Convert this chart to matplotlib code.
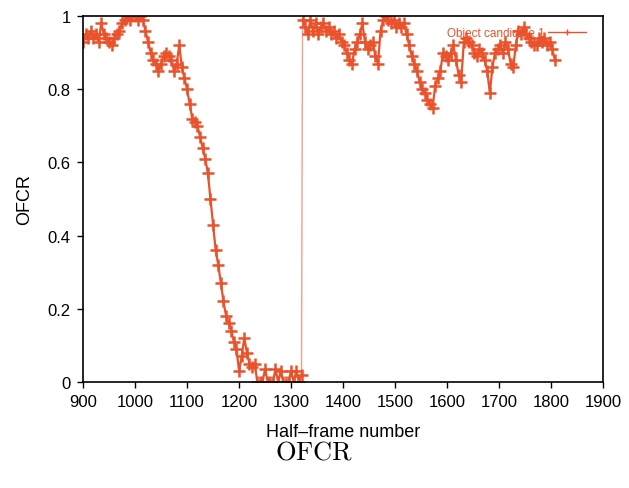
import matplotlib
matplotlib.use('Agg')
import matplotlib.pyplot as plt
import numpy as np

plt.rcParams['font.family'] = ['Liberation Sans', 'DejaVu Sans']
plt.rcParams['mathtext.fontset'] = 'cm'

# frames before the jump (step 5) and after it
frames_a = list(range(900, 1321, 5))
ofcr_a = [0.93, 0.95, 0.94, 0.96, 0.94, 0.95, 0.93, 0.98, 0.95, 0.94,
          0.93, 0.92, 0.94, 0.95, 0.96, 0.98, 0.99, 1.00, 0.99, 1.00,
          1.00, 0.99, 1.00, 0.99, 0.96, 0.93, 0.90, 0.88, 0.87, 0.85,
          0.87, 0.89, 0.90, 0.89, 0.88, 0.85, 0.87, 0.92, 0.86, 0.83,
          0.80, 0.76, 0.72, 0.71, 0.70, 0.67, 0.64, 0.61, 0.57, 0.50,
          0.43, 0.36, 0.32, 0.27, 0.22, 0.18, 0.16, 0.14, 0.11, 0.09,
          0.03, 0.07, 0.12, 0.08, 0.05, 0.04, 0.05, 0.00, 0.00, 0.00,
          0.035, 0.00, 0.00, 0.00, 0.035, 0.00, 0.03, 0.00, 0.00, 0.00,
          0.03, 0.00, 0.03, 0.00, 0.02]

frames_b = list(range(1322, 1808, 5))
ofcr_b = [0.99, 0.97, 0.95, 0.99, 0.96, 0.98, 0.95, 0.97, 0.98, 0.96,
          0.97, 0.95, 0.96, 0.94, 0.95, 0.93, 0.92, 0.90, 0.88, 0.87,
          0.91, 0.93, 0.95, 0.98, 0.93, 0.91, 0.92, 0.93, 0.89, 0.87,
          0.96, 0.99, 1.00, 0.99, 0.98, 0.99, 0.97, 0.98, 0.97, 0.98,
          0.95, 0.92, 0.89, 0.87, 0.85, 0.82, 0.80, 0.79, 0.77, 0.76,
          0.75, 0.81, 0.83, 0.85, 0.90, 0.89, 0.88, 0.90, 0.92, 0.88,
          0.84, 0.82, 0.93, 0.94, 0.93, 0.92, 0.90, 0.89, 0.91, 0.90,
          0.88, 0.85, 0.79, 0.86, 0.90, 0.91, 0.92, 0.90, 0.93, 0.91,
          0.87, 0.86, 0.92, 0.96, 0.95, 0.97, 0.95, 0.94, 0.93, 0.92,
          0.92, 0.94, 0.93, 0.94, 0.92, 0.93, 0.91, 0.88]

xticks = list(range(900, 2000, 100))
yticks = [0, 0.2, 0.4, 0.6, 0.8, 1]
ytick_labels = ['0', '0.2', '0.4', '0.6', '0.8', '1']

red = '#e9522a'

fig = plt.figure(figsize=(6.29, 4.89), dpi=100)
ax = fig.add_axes([0.132, 0.217, 0.827, 0.748])

# thin connector across the jump (drawn lighter, like the original)
ax.plot([frames_a[-1], frames_b[0]], [ofcr_a[-1], ofcr_b[0]], color=red,
        lw=1.0, alpha=0.55)
ax.plot(frames_a, ofcr_a, color=red, lw=1.6, marker='+', ms=8, mew=1.8,
        label='Object candidate 1')
ax.plot(frames_b, ofcr_b, color=red, lw=1.6, marker='+', ms=8, mew=1.8)

ax.set_xlim(900, 1900)
ax.set_ylim(0, 1)
ax.set_xticks(xticks)
ax.set_yticks(yticks)
ax.set_yticklabels(ytick_labels)
ax.tick_params(direction='out', length=4, width=1, labelsize=12, pad=5,
               top=False, right=False)
for s in ax.spines.values():
    s.set_linewidth(1.2)

ax.set_xlabel('Half\u2013frame number', fontsize=13, labelpad=10)
ax.set_ylabel('OFCR', fontsize=13, labelpad=10)

leg = ax.legend(loc='upper right', bbox_to_anchor=(0.98, 0.99), frameon=False,
                markerfirst=False, fontsize=8.5, labelcolor=red,
                handlelength=3.2, handletextpad=0.3, borderaxespad=0.2)
for h in leg.legend_handles:
    h.set_linewidth(1.0)
    h.set_markersize(5)
    h.set_markeredgewidth(1.0)

fig.text(0.5, 0.075, r'$\mathrm{OFCR}$', ha='center', va='center', fontsize=19)

fig.savefig('out.png', dpi=100)
